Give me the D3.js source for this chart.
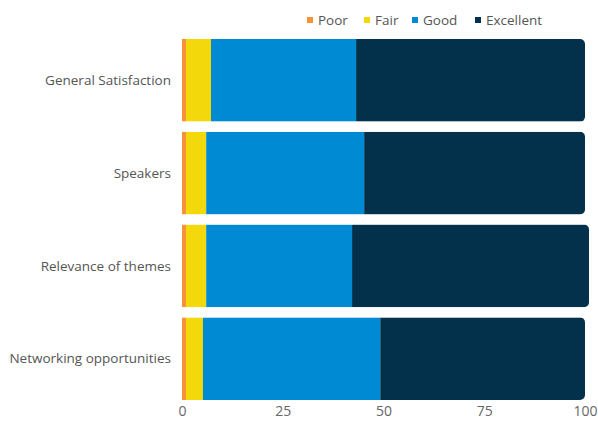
<!DOCTYPE html>
<html>
<head>
<meta charset="utf-8">
<script src="https://cdn.jsdelivr.net/npm/d3@7"></script>
<style>
  body { margin: 0; background: #fff; }
  text { font-family: "Open Sans", sans-serif; }
</style>
</head>
<body>
<script>
var categories = ["General Satisfaction", "Speakers", "Relevance of themes", "Networking opportunities"];
var seriesNames = ["Poor", "Fair", "Good", "Excellent"];
var poor = [1, 1, 1, 1];
var fair = [6.2, 5, 5, 4.2];
var good = [36, 39.2, 36.2, 44];
var excellent = [56.8, 54.8, 58.8, 50.8];
var xTicks = [0, 25, 50, 75, 100];
var colors = ["#f7923a", "#f3d80c", "#008ad3", "#03304b"];

let width = 598,
    height = 421,
    margin = {top: 39, right: 13, bottom: 30, left: 182};

let rows = categories.map((c, i) => ({
    category: c, Poor: poor[i], Fair: fair[i], Good: good[i], Excellent: excellent[i]
}));

let stacked = d3.stack().keys(seriesNames)(rows);

let svg = d3.select("body").append("svg")
    .attr("width", width)
    .attr("height", height);

let x = d3.scaleLinear()
    .domain([0, 100])
    .range([margin.left, 585]);

let y = d3.scaleBand()
    .domain(categories)
    .range([margin.top, 400])
    .paddingInner(0.11)
    .paddingOuter(0);

// rounded end of each bar
let defs = svg.append("defs");
rows.forEach((r, i) => {
    let total = r.Poor + r.Fair + r.Good + r.Excellent;
    defs.append("clipPath").attr("id", "clip" + i)
        .append("rect")
        .attr("x", x(0) - 6)
        .attr("y", y(r.category))
        .attr("width", x(total) - x(0) + 6)
        .attr("height", y.bandwidth())
        .attr("rx", 5);
});

let bars = svg.append("g").attr("class", "bars");
categories.forEach((c, i) => {
    let g = bars.append("g").attr("clip-path", "url(#clip" + i + ")");
    stacked.forEach((s, k) => {
        g.append("rect")
            .attr("x", x(s[i][0]))
            .attr("y", y(c))
            .attr("width", x(s[i][1]) - x(s[i][0]))
            .attr("height", y.bandwidth())
            .attr("fill", colors[k]);
    });
});

// category labels
svg.append("g")
    .selectAll("text")
    .data(categories)
    .join("text")
        .attr("x", 171)
        .attr("y", d => y(d) + y.bandwidth() / 2)
        .attr("dy", "0.35em")
        .attr("text-anchor", "end")
        .attr("font-size", 13.5)
        .attr("fill", "#555")
        .text(d => d);

// x axis
let xAxis = svg.append("g")
    .attr("transform", "translate(0,401)")
    .call(d3.axisBottom(x).tickValues(xTicks).tickSize(0).tickPadding(5));
xAxis.select(".domain").remove();
xAxis.selectAll("text")
    .attr("font-family", "Open Sans, sans-serif")
    .attr("font-size", 14)
    .attr("fill", "#666");

// legend
let legendX = [307, 364, 412, 475];
let legend = svg.append("g").attr("class", "legend");
seriesNames.forEach((name, k) => {
    let item = legend.append("g").attr("transform", "translate(" + legendX[k] + ",20)");
    item.append("rect")
        .attr("x", 0).attr("y", -3)
        .attr("width", 6).attr("height", 6)
        .attr("fill", colors[k]);
    item.append("text")
        .attr("x", 11)
        .attr("dy", "0.35em")
        .attr("font-size", 13.5)
        .attr("fill", "#555")
        .text(name);
});
</script>
</body>
</html>
